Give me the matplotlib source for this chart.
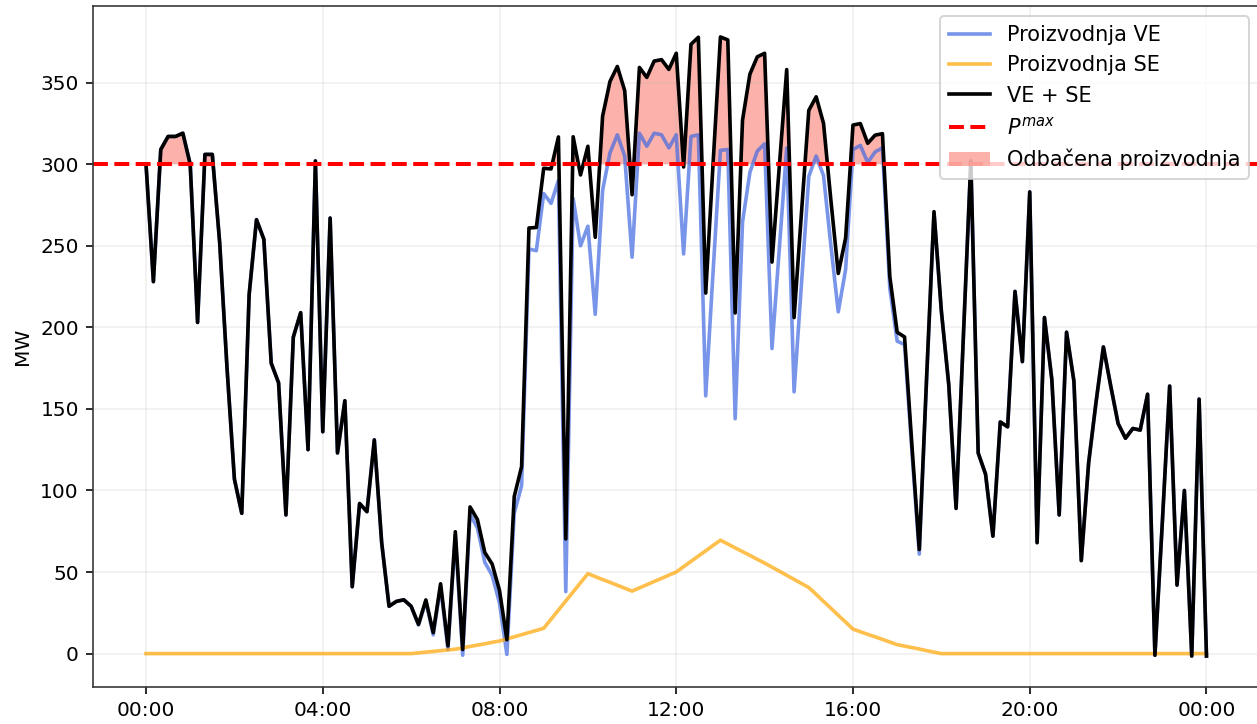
import numpy as np
import pandas as pd
import matplotlib
matplotlib.use("Agg")
import matplotlib.pyplot as plt
import matplotlib.dates as mdates

# 10-minutne vrijednosti za jedan dan (00:00 - 24:00)
vrijeme = pd.date_range("2023-06-01 00:00", periods=145, freq="10min")

# proizvodnja vjetroelektrana (MW)
proizvodnja_ve = [
    300, 228, 309, 317, 317, 319, 300, 203, 306, 306, 252, 175,
    107, 86, 220, 266, 254, 178, 166, 85, 194, 209, 125, 302,
    136, 267, 123, 155, 41, 92, 87, 131, 68, 29, 32, 33,
    29, 17.5, 32, 11.5, 41, 2.5, 72, -1, 85.5, 77, 56, 48,
    31, -0.5, 86, 103, 248, 247, 282, 276, 290, 38, 279, 250,
    262, 208, 284, 307, 318, 305, 243, 319, 311, 319, 318, 310,
    318, 245, 317, 318, 158, 234, 308.5, 309, 144, 264.5, 295, 308,
    312.5, 187, 248.5, 310, 160.5, 227, 292.5, 305, 293, 250, 209.5, 235.5,
    309, 311.5, 301, 307.5, 310, 224, 191.5, 189.5, 124, 61, 168, 270,
    210, 165, 89, 195, 302, 123, 110, 72, 142, 139, 222, 179,
    283, 68, 206, 168, 85, 197, 167, 57, 117, 154, 188, 164,
    141, 132, 138, 137, 159, -1, 80, 164, 42, 100, -1.5, 156,
    -1.5,
]

# proizvodnja solarnih elektrana (MW)
proizvodnja_se = (
    [0] * 37
    + [0.45, 0.9, 1.35, 1.8, 2.25, 2.7]
    + [3.5, 4.4, 5.2, 6.0, 6.9, 7.7]
    + [9.0, 10.3, 11.6, 12.9, 14.2, 15.5]
    + [21.1, 26.7, 32.3, 37.8, 43.4, 49]
    + [47.2, 45.4, 43.7, 41.9, 40.1, 38.3]
    + [40.3, 42.2, 44.2, 46.1, 48.1, 50]
    + [53.3, 56.5, 59.8, 63.0, 66.3, 69.5]
    + [67.2, 64.8, 62.5, 60.2, 57.8, 55.5]
    + [53.0, 50.5, 48.0, 45.5, 43.0, 40.5]
    + [36.3, 32.0, 27.8, 23.5, 19.3, 15]
    + [13.4, 11.8, 10.3, 8.7, 7.1, 5.5]
    + [4.6, 3.7, 2.8, 1.8, 0.9, 0]
    + [0] * 36
)

p_max = 300

ve = np.array(proizvodnja_ve, dtype=float)
se = np.array(proizvodnja_se, dtype=float)
ukupno = ve + se

fig = plt.figure(figsize=(1258 / 145, 724 / 145), dpi=145)
ax = fig.add_axes([93 / 1258, 37 / 724, (1259.5 - 93) / 1258, 681 / 724])

ax.plot(vrijeme, ve, color="royalblue", alpha=0.7, lw=1.8, label="Proizvodnja VE")
ax.plot(vrijeme, se, color="orange", alpha=0.7, lw=1.8, label="Proizvodnja SE")
ax.plot(vrijeme, ukupno, color="black", lw=1.8, label="VE + SE")
ax.axhline(p_max, color="red", linestyle="--", lw=2, label="$P^{max}$")
ax.fill_between(vrijeme, p_max, ukupno, where=ukupno > p_max, interpolate=True,
                color="salmon", alpha=0.6, linewidth=0, label="Odbačena proizvodnja")

ax.xaxis.set_major_locator(mdates.HourLocator(byhour=[0, 4, 8, 12, 16, 20]))
ax.xaxis.set_major_formatter(mdates.DateFormatter("%H:%M"))
ax.set_ylabel("MW")
ax.grid(True, alpha=0.2)
for s in ax.spines.values():
    s.set_color("#333333")
ax.legend(loc="upper right", fontsize=10.4)

fig.savefig("out.png", dpi=145)
